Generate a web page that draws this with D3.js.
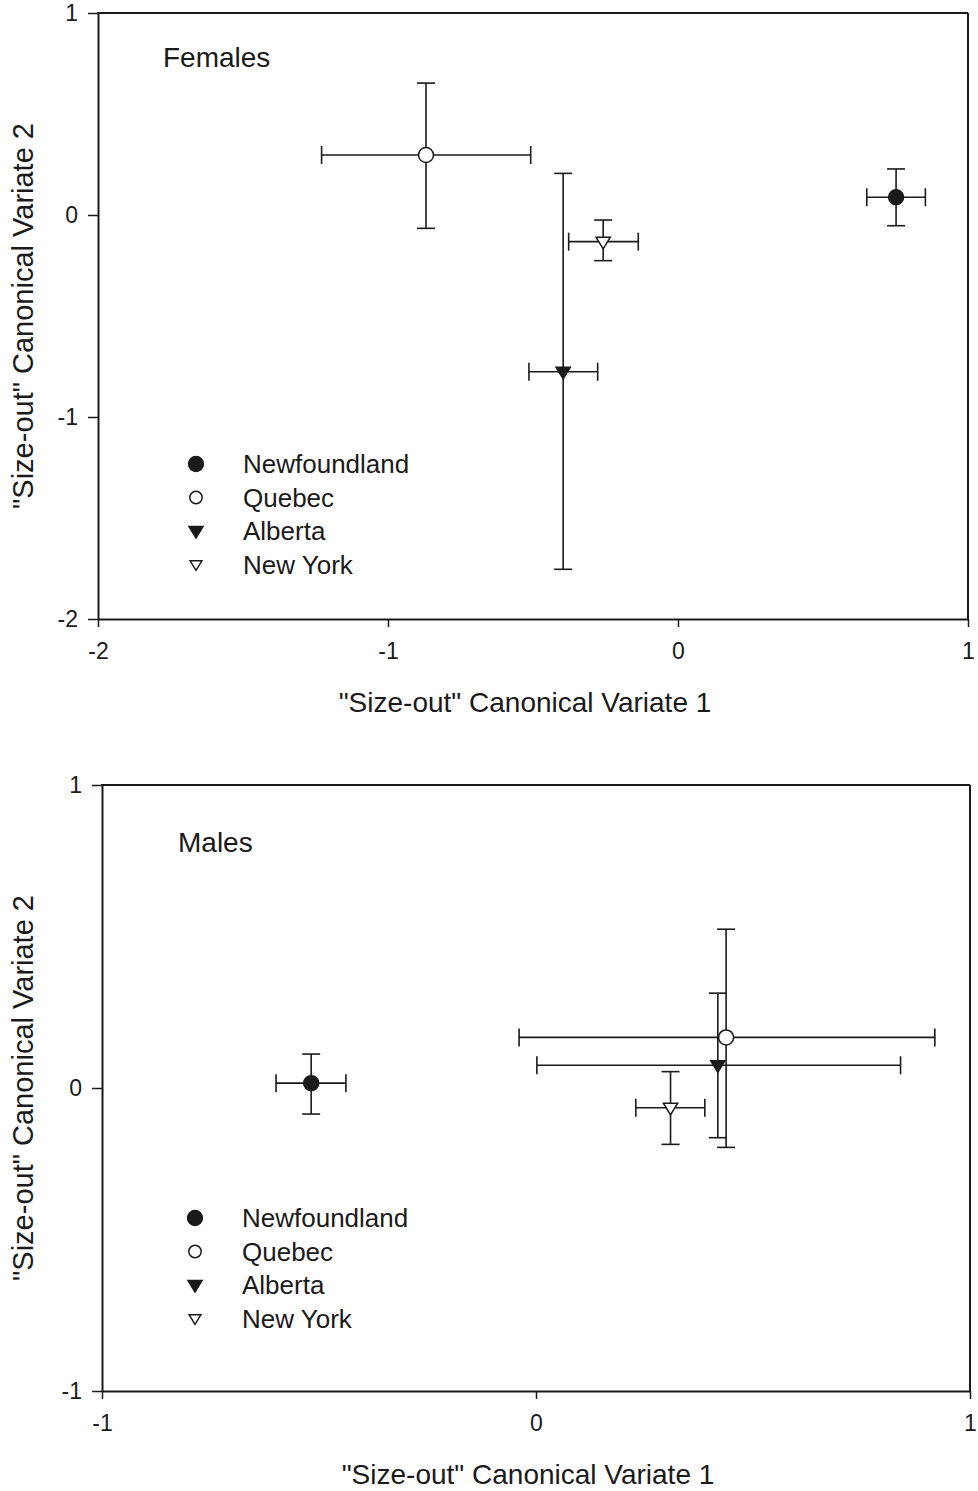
<!DOCTYPE html>
<html>
<head>
<meta charset="utf-8">
<script src="https://cdn.jsdelivr.net/npm/d3@7"></script>
<style>
  html, body { margin: 0; padding: 0; background: #fff; }
  svg text { font-family: "Liberation Sans", Arial, sans-serif; fill: #1a1a1a; }
</style>
</head>
<body>
<div id="chart"></div>
<script>
// sites, in legend order
const sites = ["Newfoundland", "Quebec", "Alberta", "New York"];

// Females: canonical variate means and error-bar ends
const femalesCV1   = [0.752, -0.869, -0.396, -0.258];
const femalesCV1Lo = [0.651, -1.229, -0.514, -0.377];
const femalesCV1Hi = [0.853, -0.508, -0.277, -0.137];
const femalesCV2   = [0.088, 0.297, -0.776, -0.132];
const femalesCV2Lo = [-0.053, -0.066, -1.754, -0.226];
const femalesCV2Hi = [0.228, 0.653, 0.206, -0.025];

// Males
const malesCV1   = [-0.518, 0.438, 0.419, 0.310];
const malesCV1Lo = [-0.599, -0.039, 0.002, 0.230];
const malesCV1Hi = [-0.438, 0.919, 0.840, 0.389];
const malesCV2   = [0.016, 0.167, 0.075, -0.065];
const malesCV2Lo = [-0.086, -0.196, -0.164, -0.186];
const malesCV2Hi = [0.112, 0.524, 0.313, 0.054];

// axis ticks
const femalesXTicks = [-2, -1, 0, 1];
const femalesYTicks = [-2, -1, 0, 1];
const malesXTicks = [-1, 0, 1];
const malesYTicks = [-1, 0, 1];

const xTitle = '"Size-out" Canonical Variate 1';
const yTitle = '"Size-out" Canonical Variate 2';

const ink = "#1a1a1a";

const svg = d3.select("#chart").append("svg")
  .attr("width", 978)
  .attr("height", 1491);

// marker shapes: filled / open circle, filled / open down triangle
const markerStyle = [
  { shape: "circle", fill: ink },
  { shape: "circle", fill: "#fff" },
  { shape: "tri", fill: ink },
  { shape: "tri", fill: "#fff" }
];

function addMarker(g, i, cx, cy, r) {
  const m = markerStyle[i];
  if (m.shape === "circle") {
    g.append("circle")
      .attr("cx", cx).attr("cy", cy).attr("r", r)
      .attr("fill", m.fill).attr("stroke", ink).attr("stroke-width", 1.5);
  } else {
    const w = r * 0.95, top = r * 0.6, bot = r * 0.95;
    g.append("path")
      .attr("d", `M${cx - w},${cy - top}L${cx + w},${cy - top}L${cx},${cy + bot}Z`)
      .attr("fill", m.fill).attr("stroke", ink).attr("stroke-width", 1.5)
      .attr("stroke-linejoin", "miter");
  }
}

function drawPanel(p) {
  const x = d3.scaleLinear().domain(p.xDomain).range([p.left, p.right]);
  const y = d3.scaleLinear().domain(p.yDomain).range([p.bottom, p.top]);
  const g = svg.append("g");

  // axes
  const xAxis = g.append("g")
    .attr("transform", `translate(0,${p.bottom})`)
    .call(d3.axisBottom(x).tickValues(p.xTicks).tickFormat(d3.format("d"))
      .tickSizeInner(8).tickSizeOuter(0).tickPadding(16));
  const yAxis = g.append("g")
    .attr("transform", `translate(${p.left},0)`)
    .call(d3.axisLeft(y).tickValues(p.yTicks).tickFormat(d3.format("d"))
      .tickSizeInner(10).tickSizeOuter(0).tickPadding(10));
  [xAxis, yAxis].forEach(a => {
    a.select(".domain").attr("stroke", ink).attr("stroke-width", 2);
    a.selectAll(".tick line").attr("stroke", ink).attr("stroke-width", 1.5);
    a.selectAll(".tick text")
      .attr("font-size", 23).attr("fill", ink)
      .text(d => d < 0 ? "-" + Math.abs(d) : d);
  });

  // frame top and right
  g.append("line").attr("x1", p.left - 1).attr("x2", p.right)
    .attr("y1", p.top).attr("y2", p.top)
    .attr("stroke", ink).attr("stroke-width", 2);
  g.append("line").attr("x1", p.right).attr("x2", p.right)
    .attr("y1", p.top).attr("y2", p.bottom + 1)
    .attr("stroke", ink).attr("stroke-width", 2);

  // axis titles
  g.append("text")
    .attr("x", (p.left + p.right) / 2 - 8)
    .attr("y", p.bottom + 93)
    .attr("text-anchor", "middle")
    .attr("font-size", 28)
    .text(xTitle);
  g.append("text")
    .attr("transform", `translate(33,${(p.top + p.bottom) / 2}) rotate(-90)`)
    .attr("text-anchor", "middle")
    .attr("font-size", 29)
    .text(yTitle);

  // panel label
  g.append("text")
    .attr("x", p.labelX).attr("y", p.labelY)
    .attr("font-size", 28)
    .text(p.label);

  // error bars
  const cap = 9;
  p.cv1.forEach((v, i) => {
    const cx = x(v), cy = y(p.cv2[i]);
    const eb = g.append("g").attr("stroke", ink).attr("stroke-width", 1.6).attr("fill", "none");
    const xl = x(p.cv1Lo[i]), xh = x(p.cv1Hi[i]);
    const yl = y(p.cv2Lo[i]), yh = y(p.cv2Hi[i]);
    eb.append("line").attr("x1", xl).attr("x2", xh).attr("y1", cy).attr("y2", cy);
    eb.append("line").attr("x1", xl).attr("x2", xl).attr("y1", cy - cap).attr("y2", cy + cap);
    eb.append("line").attr("x1", xh).attr("x2", xh).attr("y1", cy - cap).attr("y2", cy + cap);
    eb.append("line").attr("x1", cx).attr("x2", cx).attr("y1", yl).attr("y2", yh);
    eb.append("line").attr("x1", cx - cap).attr("x2", cx + cap).attr("y1", yl).attr("y2", yl);
    eb.append("line").attr("x1", cx - cap).attr("x2", cx + cap).attr("y1", yh).attr("y2", yh);
  });

  // markers on top
  p.cv1.forEach((v, i) => addMarker(g, i, x(v), y(p.cv2[i]), 7.5));

  // legend
  sites.forEach((s, i) => {
    const ly = p.legendY + i * 33.5;
    const r = (i % 2 === 0) ? 7.4 : 6.2;
    addMarker(g, i, p.legendX, ly, r);
    g.append("text")
      .attr("x", p.legendX + 47).attr("y", ly + 9)
      .attr("font-size", 26)
      .text(s);
  });
}

drawPanel({
  label: "Females", labelX: 163, labelY: 67,
  left: 98, right: 968, top: 13, bottom: 619,
  xDomain: [-2, 1], yDomain: [-2, 1],
  xTicks: femalesXTicks, yTicks: femalesYTicks,
  cv1: femalesCV1, cv1Lo: femalesCV1Lo, cv1Hi: femalesCV1Hi,
  cv2: femalesCV2, cv2Lo: femalesCV2Lo, cv2Hi: femalesCV2Hi,
  legendX: 196, legendY: 464
});

drawPanel({
  label: "Males", labelX: 178, labelY: 852,
  left: 102, right: 970, top: 785, bottom: 1391,
  xDomain: [-1, 1], yDomain: [-1, 1],
  xTicks: malesXTicks, yTicks: malesYTicks,
  cv1: malesCV1, cv1Lo: malesCV1Lo, cv1Hi: malesCV1Hi,
  cv2: malesCV2, cv2Lo: malesCV2Lo, cv2Hi: malesCV2Hi,
  legendX: 195, legendY: 1218
});
</script>
</body>
</html>
